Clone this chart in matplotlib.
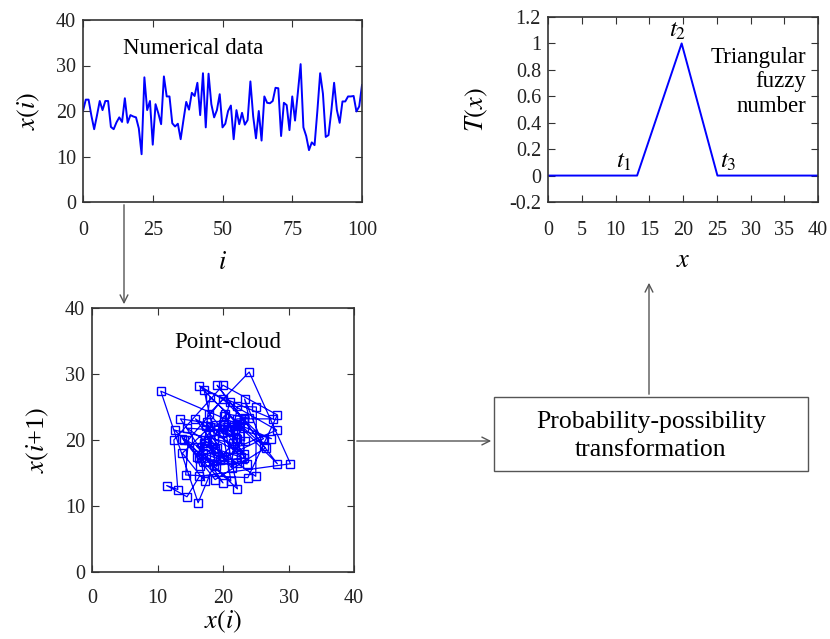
import matplotlib
matplotlib.use("Agg")
import matplotlib.pyplot as plt
from matplotlib.patches import FancyArrowPatch, Rectangle
import numpy as np

plt.rcParams['font.family'] = ['Liberation Serif', 'DejaVu Serif']
plt.rcParams['mathtext.fontset'] = 'stix'
plt.rcParams['font.size'] = 14

# series x(i), i = 0..100
xi = [20.0, 22.5, 22.5, 19.0, 16.0, 19.0, 22.2, 20.2, 22.2, 22.2,
      16.5, 16.0, 17.5, 18.6, 17.6, 22.8, 17.4, 19.1, 18.8, 18.6,
      16.2, 10.5, 27.4, 20.2, 22.2, 12.6, 21.5, 19.5, 17.1, 27.6,
      23.2, 23.2, 17.3, 16.6, 17.2, 13.8, 18.0, 22.0, 20.3, 24.0,
      23.3, 26.2, 19.1, 28.3, 16.4, 28.2, 21.5, 18.6, 20.2, 23.7,
      16.4, 17.2, 20.0, 21.2, 13.8, 20.2, 17.1, 19.6, 17.0, 18.0,
      26.5, 18.8, 14.0, 20.0, 13.5, 23.2, 21.8, 21.7, 22.2, 25.1,
      25.0, 14.5, 21.8, 21.3, 15.8, 23.2, 17.9, 24.0, 30.3, 16.4,
      14.5, 11.4, 13.1, 12.5, 20.0, 28.3, 23.8, 14.3, 14.7, 20.0,
      26.2, 20.2, 17.4, 22.1, 22.1, 23.2, 23.2, 23.3, 19.9, 21.0,
      25.7]
idx = np.arange(len(xi))

# triangular fuzzy number (t1, t2, t3)
t1, t2, t3 = 13.2, 19.8, 25.1
tri_x = [0, t1, t2, t3, 40]
tri_y = [0, 0, 1, 0, 0]

blue = '#0000ff'
grey = '#333333'

fig = plt.figure(figsize=(8.3, 6.39), dpi=100)
W, H = 830.0, 639.0


def px_axes(l, r, t, b):
    return fig.add_axes([l / W, 1 - b / H, (r - l) / W, (b - t) / H])


def style(ax):
    for s in ax.spines.values():
        s.set_color(grey)
        s.set_linewidth(1.2)
    ax.tick_params(direction='in', top=True, right=True, length=5,
                   colors=grey, labelcolor='#222222', labelsize=14.5)
    ax.tick_params(axis='x', pad=14)
    ax.tick_params(axis='y', pad=5)


# numerical data
ax1 = px_axes(83, 362, 20, 202)
ax1.plot(idx, xi, color=blue, lw=1.4)
ax1.set_xlim(0, 100)
ax1.set_ylim(0, 40)
ax1.set_xticks([0, 25, 50, 75, 100])
ax1.set_yticks([0, 10, 20, 30, 40])
ax1.set_xlabel('$i$', fontsize=19, labelpad=8)
ax1.set_ylabel('$x(i)$', fontsize=19, labelpad=10)
ax1.text(14.5, 33.8, 'Numerical data', fontsize=16.5, va='center')
style(ax1)

# point cloud x(i) vs x(i+1)
ax2 = px_axes(92, 354, 308, 572)
ax2.plot(xi[:-1], xi[1:], color=blue, lw=0.9, marker='s', ms=6,
         mfc='none', mec=blue, mew=1.0)
ax2.set_xlim(0, 40)
ax2.set_ylim(0, 40)
ax2.set_xticks([0, 10, 20, 30, 40])
ax2.set_yticks([0, 10, 20, 30, 40])
ax2.set_xlabel('$x(i)$', fontsize=19, labelpad=1)
ax2.set_ylabel('$x(i$+1$)$', fontsize=19, labelpad=10)
ax2.text(20.7, 34.7, 'Point-cloud', fontsize=16.5, ha='center', va='center')
style(ax2)
ax2.tick_params(axis='x', pad=12)

# triangular fuzzy number
ax3 = px_axes(548, 818, 17, 202)
ax3.plot(tri_x, tri_y, color=blue, lw=1.4)
ax3.set_xlim(0, 40)
ax3.set_ylim(-0.2, 1.2)
ax3.set_xticks(np.arange(0, 41, 5))
yt = [-0.2, 0, 0.2, 0.4, 0.6, 0.8, 1, 1.2]
ax3.set_yticks(yt)
ax3.set_yticklabels(['-0.2', '0', '0.2', '0.4', '0.6', '0.8', '1', '1.2'])
ax3.set_xlabel('$x$', fontsize=19, labelpad=7)
ax3.set_ylabel('$T(x)$', fontsize=19, labelpad=14)
ax3.text(38.3, 0.71, 'Triangular\nfuzzy\nnumber', fontsize=16.5,
         ha='right', va='center', linespacing=1.22)
ax3.text(t1 - 0.7, 0.02, '$t_1$', fontsize=18, ha='right', va='bottom')
ax3.text(t2 - 0.6, 1.01, '$t_2$', fontsize=18, ha='center', va='bottom')
ax3.text(t3 + 0.4, 0.02, '$t_3$', fontsize=18, ha='left', va='bottom')
style(ax3)

# transformation box
box = Rectangle((494 / W, 1 - 471 / H), (808 - 494) / W, (471 - 397) / H,
                transform=fig.transFigure, fill=False, ec='#555555', lw=1.0)
fig.add_artist(box)
fig.text(651 / W, 1 - 436 / H, 'Probability-possibility\ntransformation',
         ha='center', va='center', fontsize=18.5, linespacing=1.32)


def arrow(p0, p1):
    a = FancyArrowPatch((p0[0] / W, 1 - p0[1] / H), (p1[0] / W, 1 - p1[1] / H),
                        transform=fig.transFigure, arrowstyle='->',
                        mutation_scale=14, color='#555555', lw=1.0)
    fig.add_artist(a)


arrow((124, 202), (124, 307))
arrow((354, 441), (494, 441))
arrow((649, 397), (649, 280))

fig.savefig('out.png', dpi=100)
